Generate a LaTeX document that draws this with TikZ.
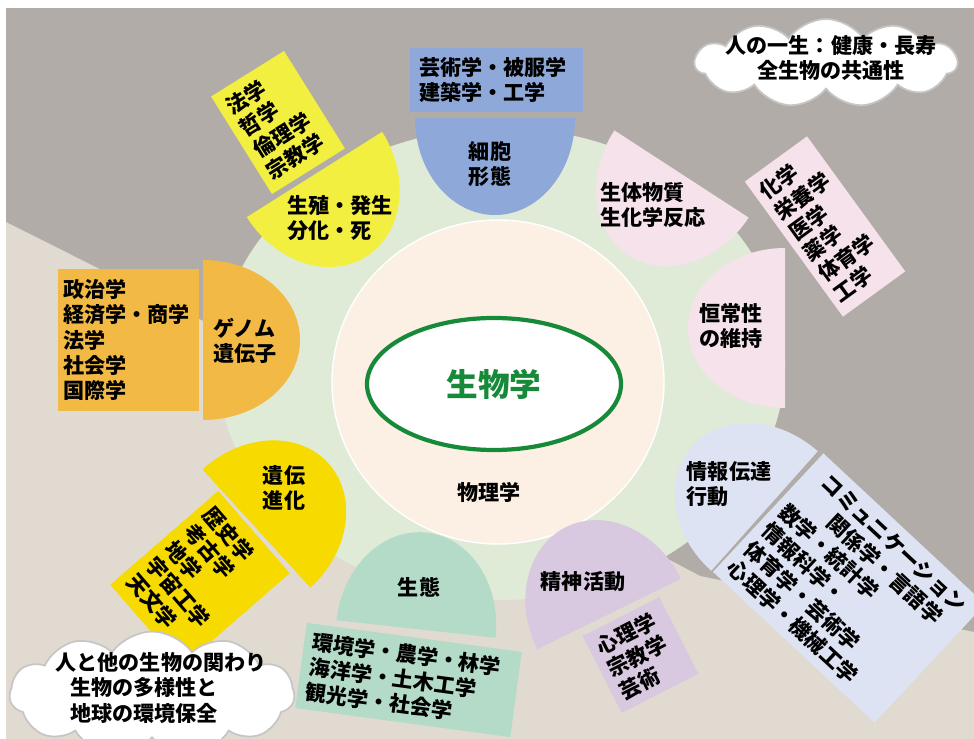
\documentclass[tikz,border=0pt]{standalone}
\usepackage{fontspec}
\setmainfont{Noto Sans CJK JP}[BoldFont={Noto Sans CJK JP Black}]
\usetikzlibrary{shapes.symbols}

\definecolor{bgGrey}{HTML}{B1ACA8}
\definecolor{bgSand}{HTML}{E1DAD0}
\definecolor{ringGreen}{HTML}{DFEBD6}
\definecolor{corePeach}{HTML}{FCF0E5}
\definecolor{bioGreen}{HTML}{168A38}
\definecolor{cellBlue}{HTML}{8EA9D9}
\definecolor{chemPink}{HTML}{F5E2EB}
\definecolor{infoBlue}{HTML}{DEE3F3}
\definecolor{mindViolet}{HTML}{D8C8E0}
\definecolor{ecoMint}{HTML}{B3DBC8}
\definecolor{evoYellow}{HTML}{F7DA00}
\definecolor{genOrange}{HTML}{F2B945}
\definecolor{devYellow}{HTML}{F3EF40}

\tikzset{
  jp/.style={font=\bfseries\fontsize{12}{14.4}\selectfont},
  lobetext/.style={jp, align=left, inner sep=0pt},
  subjbox/.style={jp, fill=#1, align=left, inner ysep=0pt},
  talk/.style={cloud, cloud puffs=11, cloud puff arc=110, fill=white, draw=gray!45, line width=1pt, inner sep=0pt},
}

% half-ellipse lobe: chord midpoint, inward angle, colour
\newcommand{\lobe}[3]{%
  \begin{scope}[shift={(#1)}, rotate=#2]
    \fill[#3] (0,-80) arc[start angle=-90, end angle=90, x radius=97, y radius=80] -- cycle;
  \end{scope}}

\begin{document}
\begin{tikzpicture}[x=0.02cm, y=-0.02cm]
  \useasboundingbox (0,0) rectangle (974,739);

  % background
  \fill[bgGrey] (6,8) rectangle (974,739);
  \fill[bgSand] (6,222) -- (500,470) -- (700,576) -- (974,632) -- (974,739) -- (6,739) -- cycle;

  % rings
  \fill[ringGreen] (501,364) ellipse [x radius=284, y radius=236];
  \filldraw[fill=corePeach, draw=white, line width=0.8pt] (498,382) ellipse [x radius=166, y radius=162];

  % lobes round the ring
  \lobe{495,118}{-90}{cellBlue}
  \lobe{681.5,174}{-123}{chemPink}
  \lobe{785,328}{180}{chemPink}
  \lobe{764.5,511}{138.3}{infoBlue}
  \lobe{609,614}{116.2}{mindViolet}
  \lobe{416,629}{83.7}{ecoMint}
  \lobe{256.5,528.5}{42.4}{evoYellow}
  \lobe{203,340}{0}{genOrange}
  \lobe{314.5,174.5}{-57.8}{devYellow}

  % centre
  \filldraw[fill=white, draw=bioGreen, line width=2.4pt] (494,384) ellipse [x radius=127, y radius=66];
  \node[font=\bfseries\fontsize{18}{20}\selectfont, text=bioGreen] (bio) at (494,384) {生物学};
  \node[jp] (phys) at (489,492) {物理学};

  \node[lobetext] (cell) at (490,164) {細胞\\形態};
  \node[lobetext] (chem) at (653,205) {生体物質\\生化学反応};
  \node[lobetext] (homeo) at (731,326) {恒常性\\の維持};
  \node[lobetext] (signal) at (729,484) {情報伝達\\行動};
  \node[lobetext] (mind) at (583,582) {精神活動};
  \node[lobetext] (eco) at (419,587) {生態};
  \node[lobetext] (evo) at (284,488) {遺伝\\進化};
  \node[lobetext] (genome) at (245,341) {ゲノム\\遺伝子};
  \node[lobetext] (repro) at (340,218) {生殖・発生\\分化・死};

  % subject boxes
  \node[subjbox=cellBlue, minimum width=3.46cm, minimum height=1.28cm, text width=3.1cm, inner xsep=0.18cm] (arts) at (496.5,80) {芸術学・被服学\\建築学・工学};
  \node[subjbox=devYellow, rotate=32, minimum width=1.72cm, minimum height=2.3cm, text width=1.4cm, inner xsep=0.16cm] (phil) at (278,122.5) {法学\\哲学\\倫理学\\宗教学};
  \node[subjbox=chemPink, rotate=36, minimum width=1.54cm, minimum height=3.34cm, text width=1.3cm, inner xsep=0.12cm] (med) at (825,226.5) {化学\\栄養学\\医学\\薬学\\体育学\\工学};
  \node[subjbox=infoBlue, rotate=-43, minimum width=4.42cm, minimum height=3.24cm, text width=4.1cm, inner xsep=0.16cm] (comm) at (849,588) {\hspace*{0.5em}コミュニケーション\\\hspace*{2em}関係学・言語学\\数学・統計学\\情報科学・\\体育学・芸術学\\心理学・機械工学};
  \node[subjbox=mindViolet, rotate=27, minimum width=1.72cm, minimum height=1.72cm, text width=1.4cm, inner xsep=0.16cm] (psy) at (640.5,655) {心理学\\宗教学\\芸術};
  \node[subjbox=evoYellow, rotate=-49, minimum width=2.18cm, minimum height=2.86cm, text width=1.86cm, inner xsep=0.16cm] (hist) at (200,579) {歴史学\\考古学\\地学\\宇宙工学\\天文学};
  \node[subjbox=genOrange, minimum width=2.82cm, minimum height=2.84cm, text width=2.6cm, inner xsep=0.11cm] (soc) at (128.5,340) {政治学\\経済学・商学\\法学\\社会学\\国際学};

  % clouds
  \node[talk, minimum width=5.24cm, minimum height=1.76cm] (lifecloud) at (826,63) {};
  \node[jp, align=center] (life) at (831,58) {人の一生：健康・長寿\\全生物の共通性};
  \node[talk, minimum width=5.7cm, minimum height=2.5cm] (earthcloud) at (152,694) {};
  \node[jp, align=left] (earth) at (161,688) {人と他の生物の関わり\\\hspace*{0.7em}生物の多様性と\\\hspace*{0.7em}地球の環境保全};

  \node[subjbox=ecoMint, rotate=-7.7, minimum width=4.34cm, minimum height=1.72cm, text width=4.0cm, inner xsep=0.17cm] (env) at (408.5,680) {環境学・農学・林学\\海洋学・土木工学\\観光学・社会学};
\end{tikzpicture}
\end{document}
